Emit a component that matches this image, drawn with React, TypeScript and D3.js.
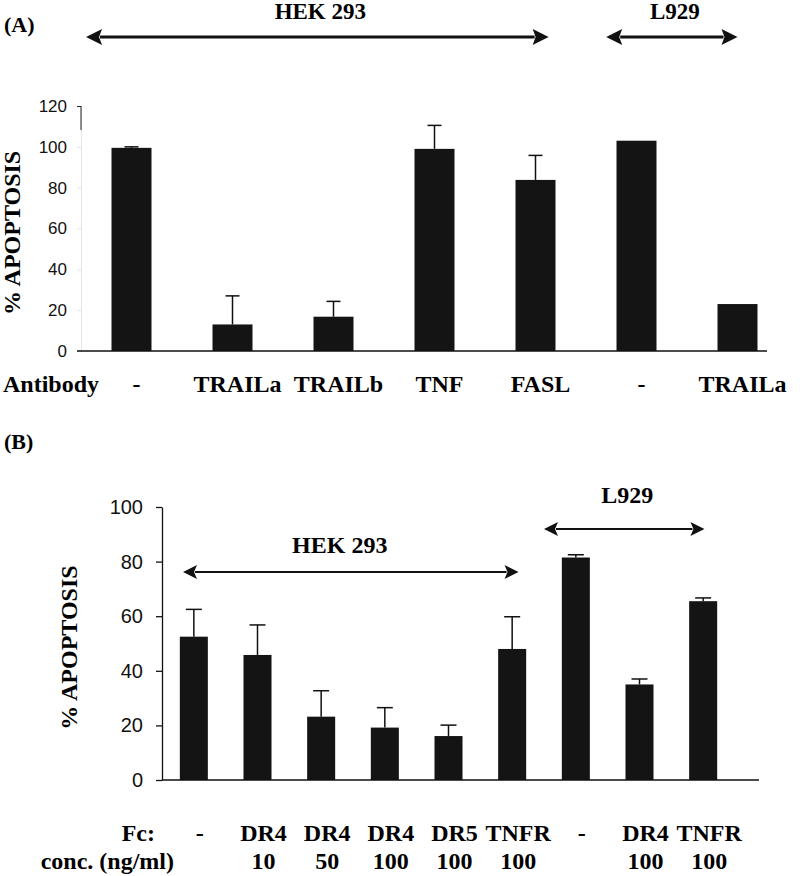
import { useRef, useEffect } from 'react';
import * as d3 from 'd3';

// Panel A: antibody blocking
const A_LABELS = ['-', 'TRAILa', 'TRAILb', 'TNF', 'FASL', '-', 'TRAILa'];
const A_VALUES = [99.5, 13, 16.8, 99, 83.8, 103, 23];
const A_ERRORS = [0.5, 14, 7.5, 11.5, 12, 0, 0];
const A_TICKS = [0, 20, 40, 60, 80, 100, 120];
// group arrows, span in category units
const A_GROUPS = [
  { label: 'HEK 293', from: -0.45, to: 4.13 },
  { label: 'L929', from: 4.7, to: 6.0 },
];

// Panel B: Fc fusion proteins
const B_FC = ['-', 'DR4', 'DR4', 'DR4', 'DR5', 'TNFR', '-', 'DR4', 'TNFR'];
const B_CONC = ['', '10', '50', '100', '100', '100', '', '100', '100'];
const B_VALUES = [52.5, 45.8, 23.2, 19.2, 16.1, 48, 81.5, 35, 65.5];
const B_ERRORS = [10, 11, 9.5, 7.3, 4, 11.8, 1, 2, 1.2];
const B_TICKS = [0, 20, 40, 60, 80, 100];
const B_GROUPS = [
  { label: 'HEK 293', from: -0.17, to: 5.1 },
  { label: 'L929', from: 5.5, to: 8.02 },
];

const SERIF = '"Liberation Serif", "Times New Roman", serif';
const SANS = '"Liberation Sans", Arial, sans-serif';
const BAR = '#141414';

type G = d3.Selection<SVGGElement, unknown, null, undefined>;

function arrow(g: G, x1: number, x2: number, y: number, sw: number, head: number, half: number) {
  g.append('line')
    .attr('x1', x1 + head - 2).attr('x2', x2 - head + 2)
    .attr('y1', y).attr('y2', y)
    .attr('stroke', '#111').attr('stroke-width', sw);
  g.append('path')
    .attr('d', `M${x1},${y}L${x1 + head},${y - half}L${x1 + head - 3},${y}L${x1 + head},${y + half}Z`)
    .attr('fill', '#111');
  g.append('path')
    .attr('d', `M${x2},${y}L${x2 - head},${y - half}L${x2 - head + 3},${y}L${x2 - head},${y + half}Z`)
    .attr('fill', '#111');
}

export default function App() {
  const svgRef = useRef<SVGSVGElement>(null);

  useEffect(() => {
    document.body.style.margin = '0';
    const svg = d3.select(svgRef.current);
    svg.selectAll('*').remove();
    svg.attr('width', 800).attr('height', 876);
    const root = svg.append('g') as unknown as G;

    // ---------- Panel A ----------
    const ax = d3.scaleBand<number>()
      .domain(d3.range(A_LABELS.length))
      .range([81, 788])
      .paddingInner(0.604)
      .paddingOuter(0.302);
    const ay = d3.scaleLinear().domain([0, 120]).range([351, 106]);
    const aStep = ax.step();
    const aPos = (u: number) => (ax(0) as number) + ax.bandwidth() / 2 + u * aStep;

    root.append('text').attr('x', 4).attr('y', 32)
      .attr('font-family', SERIF).attr('font-weight', 'bold').attr('font-size', 22)
      .text('(A)');

    A_GROUPS.forEach((grp) => {
      const x1 = aPos(grp.from);
      const x2 = aPos(grp.to);
      arrow(root, x1, x2, 37, 3, 16, 8);
      root.append('text').attr('x', (x1 + x2) / 2 + 3).attr('y', 19)
        .attr('text-anchor', 'middle')
        .attr('font-family', SERIF).attr('font-weight', 'bold').attr('font-size', 23)
        .text(grp.label);
    });

    const aAxis = root.append('g').attr('transform', 'translate(81,0)')
      .call(d3.axisLeft(ay).tickValues(A_TICKS).tickSize(4).tickPadding(10));
    aAxis.select('.domain').attr('stroke', '#e4e4e4');
    aAxis.selectAll('.tick line').attr('stroke', (d) => (d === 120 ? '#222' : '#e4e4e4'));
    aAxis.selectAll('text').attr('font-family', SANS).attr('font-size', 17).attr('fill', '#111');
    root.append('line').attr('x1', 81).attr('x2', 81).attr('y1', ay(120)).attr('y2', ay(120) + 24)
      .attr('stroke', '#222').attr('stroke-width', 1);

    root.append('g').selectAll('rect').data(A_VALUES).join('rect')
      .attr('x', (_, i) => ax(i) as number)
      .attr('width', ax.bandwidth())
      .attr('y', (d) => ay(d))
      .attr('height', (d) => ay(0) - ay(d))
      .attr('fill', BAR);

    A_VALUES.forEach((v, i) => {
      const e = A_ERRORS[i];
      if (!e) return;
      const cx = (ax(i) as number) + ax.bandwidth() / 2;
      root.append('line').attr('x1', cx).attr('x2', cx).attr('y1', ay(v)).attr('y2', ay(v + e))
        .attr('stroke', '#111').attr('stroke-width', 1.5);
      root.append('line').attr('x1', cx - 7).attr('x2', cx + 7).attr('y1', ay(v + e)).attr('y2', ay(v + e))
        .attr('stroke', '#111').attr('stroke-width', 1.5);
    });

    root.append('line').attr('x1', 77).attr('x2', 767).attr('y1', ay(0)).attr('y2', ay(0))
      .attr('stroke', '#111').attr('stroke-width', 1.5);

    root.append('text')
      .attr('transform', `translate(20,${(ay(0) + ay(100)) / 2 - 16}) rotate(-90)`)
      .attr('text-anchor', 'middle')
      .attr('font-family', SERIF).attr('font-weight', 'bold').attr('font-size', 24)
      .text('% APOPTOSIS');

    root.append('text').attr('x', 3).attr('y', 392)
      .attr('font-family', SERIF).attr('font-weight', 'bold').attr('font-size', 24)
      .text('Antibody');
    A_LABELS.forEach((lab, i) => {
      root.append('text')
        .attr('x', (ax(i) as number) + ax.bandwidth() / 2 + 5).attr('y', 392)
        .attr('text-anchor', 'middle')
        .attr('font-family', SERIF).attr('font-weight', 'bold').attr('font-size', 24)
        .text(lab);
    });

    // ---------- Panel B ----------
    const bx = d3.scaleBand<number>()
      .domain(d3.range(B_VALUES.length))
      .range([162, 735])
      .paddingInner(0.56)
      .paddingOuter(0.28);
    const by = d3.scaleLinear().domain([0, 100]).range([780, 507]);
    const bStep = bx.step();
    const bPos = (u: number) => (bx(0) as number) + bx.bandwidth() / 2 + u * bStep;

    root.append('text').attr('x', 4).attr('y', 449)
      .attr('font-family', SERIF).attr('font-weight', 'bold').attr('font-size', 22)
      .text('(B)');

    const bArrowY = [572, 529];
    const bLabelY = [553, 503];
    B_GROUPS.forEach((grp, gi) => {
      const x1 = bPos(grp.from);
      const x2 = bPos(grp.to);
      arrow(root, x1, x2, bArrowY[gi], 2, 14, 7);
      root.append('text').attr('x', (x1 + x2) / 2 + (gi === 0 ? -11 : 3)).attr('y', bLabelY[gi])
        .attr('text-anchor', 'middle')
        .attr('font-family', SERIF).attr('font-weight', 'bold').attr('font-size', 24)
        .text(grp.label);
    });

    const bAxis = root.append('g').attr('transform', 'translate(162,0)')
      .call(d3.axisLeft(by).tickValues(B_TICKS).tickSize(6).tickSizeOuter(0).tickPadding(13));
    bAxis.select('.domain').attr('stroke', '#111').attr('stroke-width', 1.3);
    bAxis.selectAll('.tick line').attr('stroke', '#111').attr('stroke-width', 1.3);
    bAxis.selectAll('text').attr('font-family', SANS).attr('font-size', 20).attr('fill', '#111');

    root.append('g').selectAll('rect').data(B_VALUES).join('rect')
      .attr('x', (_, i) => bx(i) as number)
      .attr('width', bx.bandwidth())
      .attr('y', (d) => by(d))
      .attr('height', (d) => by(0) - by(d))
      .attr('fill', BAR);

    B_VALUES.forEach((v, i) => {
      const e = B_ERRORS[i];
      const cx = (bx(i) as number) + bx.bandwidth() / 2;
      root.append('line').attr('x1', cx).attr('x2', cx).attr('y1', by(v)).attr('y2', by(v + e))
        .attr('stroke', '#111').attr('stroke-width', 1.5);
      root.append('line').attr('x1', cx - 8).attr('x2', cx + 8).attr('y1', by(v + e)).attr('y2', by(v + e))
        .attr('stroke', '#111').attr('stroke-width', 1.5);
    });

    root.append('line').attr('x1', 162).attr('x2', 759).attr('y1', by(0)).attr('y2', by(0))
      .attr('stroke', '#111').attr('stroke-width', 1.3);

    root.append('text')
      .attr('transform', `translate(77,${(by(0) + by(100)) / 2 + 4}) rotate(-90)`)
      .attr('text-anchor', 'middle')
      .attr('font-family', SERIF).attr('font-weight', 'bold').attr('font-size', 24)
      .text('% APOPTOSIS');

    root.append('text').attr('x', 155).attr('y', 841).attr('text-anchor', 'end')
      .attr('font-family', SERIF).attr('font-weight', 'bold').attr('font-size', 24)
      .text('Fc:');
    root.append('text').attr('x', 174).attr('y', 869).attr('text-anchor', 'end')
      .attr('font-family', SERIF).attr('font-weight', 'bold').attr('font-size', 24)
      .text('conc. (ng/ml)');
    B_FC.forEach((lab, i) => {
      const cx = (bx(i) as number) + bx.bandwidth() / 2 + 6;
      root.append('text').attr('x', cx).attr('y', 841).attr('text-anchor', 'middle')
        .attr('font-family', SERIF).attr('font-weight', 'bold').attr('font-size', 24)
        .text(lab);
      root.append('text').attr('x', cx).attr('y', 869).attr('text-anchor', 'middle')
        .attr('font-family', SERIF).attr('font-weight', 'bold').attr('font-size', 24)
        .text(B_CONC[i]);
    });
  }, []);

  return <svg ref={svgRef} style={{ display: 'block' }} />;
}
